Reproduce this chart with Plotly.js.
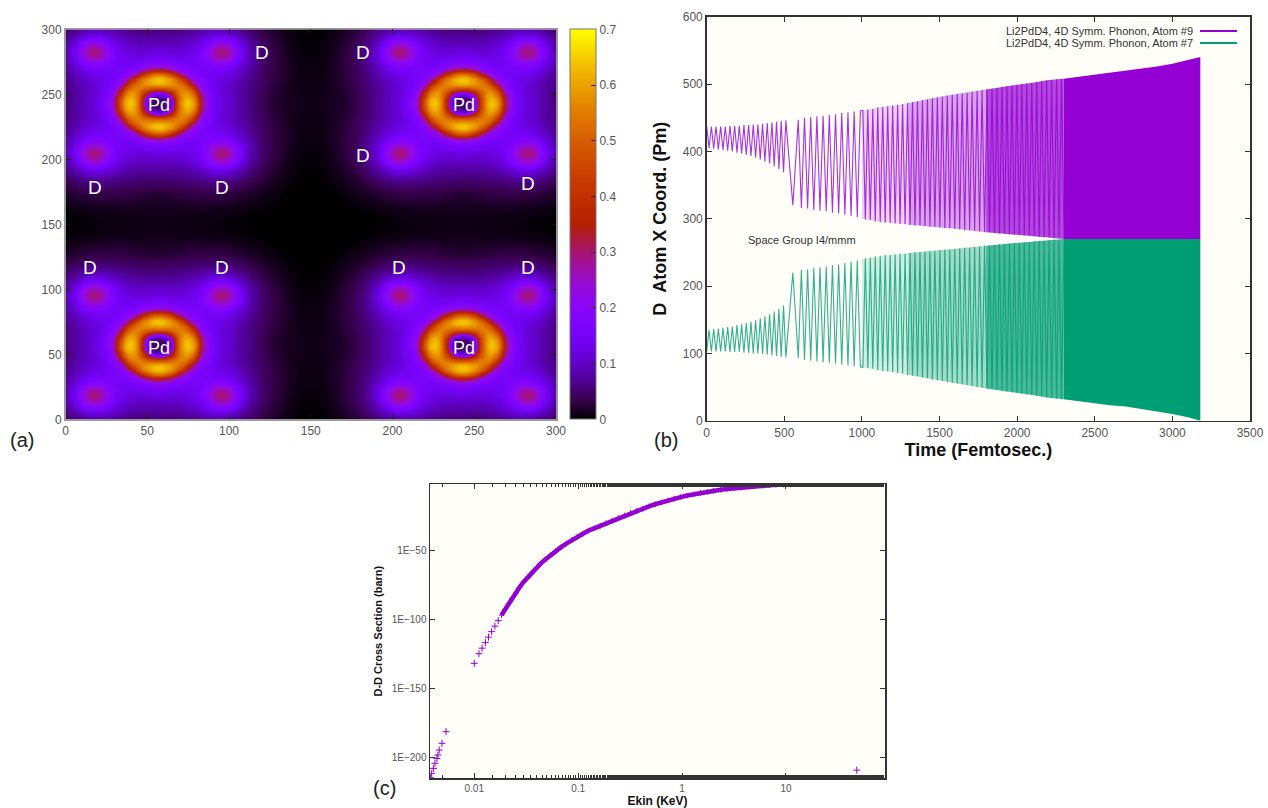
<!DOCTYPE html>
<html>
<head>
<meta charset="utf-8">
<script src="https://cdn.plot.ly/plotly-3.0.1.min.js"></script>
<style>html,body{margin:0;padding:0;background:#fff;}#chart{width:1268px;height:808px;}</style>
</head>
<body>
<div id="chart"></div>
<script>
// ---------------- Panel (a): charge density map ----------------
const mapTicks = [0, 50, 100, 150, 200, 250, 300];
const pdAtomX = [57, 243, 57, 243];
const pdAtomY = [57, 57, 243, 243];
const dAtomCols = [17, 96, 204, 283];
const dAtomRows = [18, 96, 204, 283];
// radial density profiles (radius in map units -> density)
const pdRadius = [0, 4, 7, 9, 11, 13, 15, 17, 19, 21, 23, 25, 27, 30, 34, 40, 48, 58, 70, 90, 110];
const pdLevel  = [0.03, 0.05, 0.12, 0.26, 0.40, 0.50, 0.56, 0.59, 0.58, 0.54, 0.46, 0.35, 0.25, 0.17, 0.125, 0.09, 0.065, 0.04, 0.02, 0.005, 0];
const pdLobe   = 0.08;   // ring brighter toward the four axis directions
const dRadius  = [0, 3, 6, 9, 12, 15, 19, 24, 30, 40, 50];
const dLevel   = [0.26, 0.24, 0.20, 0.15, 0.11, 0.08, 0.055, 0.035, 0.02, 0.008, 0];
const dLabelX  = [120, 18, 96, 15, 96, 182, 182, 283, 204, 283];
const dLabelY  = [282, 178, 178, 117, 117, 282, 203, 181, 117, 117];
const pdLabelX = [57, 244, 57, 244];
const pdLabelY = [242, 242, 55, 55];
const cbarTicks = [0, 0.1, 0.2, 0.3, 0.4, 0.5, 0.6, 0.7];

// ---------------- Panel (b): D atom x coordinate vs time ----------------
const timeTicks = [0, 500, 1000, 1500, 2000, 2500, 3000, 3500];
const coordTicks = [0, 100, 200, 300, 400, 500, 600];
// times of the oscillation extrema (fs)
const extremaT = [0,15,30,45,60,75,90,105,120,135,150,165,180,195,210,225,240,255,270,285,300,315,330,345,360,375,390,405,420,435,450,465,480,495,510,
  555,590,
  610,630,650,670,690,710,730,750,770,790,810,830,850,870,890,910,930,950,970,990,
  1006,1022,1038,1054,1070,1086,1102,1118,1134,1150,1166,1182,1198,1214,1230,1246,1262,1278,1294,1310,1326,1342,1358,1374,1390,1406,1422,1438,1454,1470,1486,1502,1518,1534,1550,1566,1582,1598,1614,1630,1646,1662,1678,1694,1710,1726,1742,1758,1774,1790,1806,1822,1838,1854,1870,1886,1902,1918,1934,1950,1966,1982,1998,2014,2030,2046,2062,2078,2094,2110,2126,2142,2158,2174,2190,2206,2222,2238,2254,2270,2286,2302];
// Atom #9 (purple) extrema values (pm)
const atom9X = [437,405,437,404,437,403,437,402,437,401,438,400,438,398,438,397,439,395,439,393,440,391,440,388,441,385,442,382,443,378,444,374,445,369,446,
  320,447,
  316,450,315,451,313,452,312,453,311,454,309,455,308,457,306,458,304,459,302,460,
  461,299,462,298,463,296,465,295,466,294,467,294,468,293,469,292,470,292,472,291,473,290,474,290,476,289,477,288,479,288,480,287,481,286,483,286,484,285,485,284,486,283,487,283,489,282,490,281,491,280,492,280,493,279,494,278,496,278,497,277,498,277,499,276,500,275,501,275,502,274,503,273,504,273,505,272,506,271,507,271,508,270];
// Atom #7 (green) extrema values (pm)
const atom7X = [103,135,103,136,103,137,103,138,103,139,102,140,102,142,102,143,101,145,101,147,100,149,100,152,99,155,98,158,97,162,96,166,95,171,94,
  220,93,
  224,90,225,89,227,88,228,87,229,86,231,85,232,83,234,82,236,81,238,80,
  79,241,78,242,77,244,75,245,74,246,73,246,72,247,71,248,70,248,68,249,67,250,66,250,64,251,63,252,61,252,60,253,59,254,57,254,56,255,55,256,54,257,53,257,51,258,50,259,49,260,48,260,47,261,46,262,44,262,43,263,42,263,41,264,40,265,39,265,38,266,37,267,36,267,35,268,34,269,33,269,32,270];
// envelopes of the dense part (fs, pm)
const bandT   = [1000,1100,1200,1300,1400,1500,1600,1700,1800,1900,2000,2100,2200,2300,2400,2500,2600,2700,2800,2900,3000,3100,3180];
const band9Up = [460,465,468,472,477,481,485,488,492,496,499,502,506,508,511,514,517,519,522,526,530,535,540];
const band9Lo = [300,296,293,291,289,287,285,283,280,278,276,274,272,270,270,270,270,270,270,270,270,270,270];
const band7Up = [240,244,247,249,251,253,255,257,260,262,264,266,268,270,270,270,270,270,270,270,270,270,270];
const band7Lo = [80,75,72,68,63,59,55,52,48,44,41,38,34,32,29,26,23,21,18,14,10,5,0];
const seriesNames = ['Li2PdD4, 4D Symm. Phonon, Atom #9', 'Li2PdD4, 4D Symm. Phonon, Atom #7'];

// ---------------- Panel (c): D-D cross section ----------------
const ekinTicks = [0.01, 0.1, 1, 10];
const sigmaTicks = [1e-200, 1e-150, 1e-100, 1e-50];
const sigmaTickText = ['1E\u2212200', '1E\u2212150', '1E\u2212100', '1E\u221250'];
const ekinSparse = [0.0038,0.00389,0.00404,0.00419,0.00437,0.00447,0.0046,0.00489,0.00535,0.0100,0.0111,0.0119,0.0128,0.0137,0.0147,0.0158,0.0170,48];
const sigmaSparseExp = [-214.5,-211.3,-207.7,-204,-200.5,-198,-194.4,-189.5,-181.1,-131.5,-124.5,-120.5,-116.5,-112.5,-108.5,-104.5,-100.5,-209];
const ekinDense = [0.0183,0.0197,0.0212,0.0230,0.0250,0.0272,0.0298,0.0327,0.0360,0.0398,0.0440,0.0490,0.0545,0.0610,0.0685,0.077,0.087,0.098,0.111,0.126,0.143,0.163,0.186,0.212,0.243,0.278,0.319,0.366,0.42,0.48,0.55,0.63,0.73,0.84,0.97,1.12,1.30,1.50,1.75,2.0,2.35,2.7,3.2,3.7,4.3,5.0,5.9,6.9,8.0,9.5,11,13,15.5,18,21,25,29,34,40];
const sigmaDenseExp = [-96.5,-92.5,-88.5,-84.5,-80.5,-76.5,-72.5,-69,-65.5,-62,-58.8,-55.8,-52.8,-50,-47.2,-44.6,-42,-39.8,-37.5,-35.2,-33.5,-31.8,-29.8,-27.9,-26,-24.2,-22.4,-20.8,-19.2,-17.6,-16.1,-14.7,-13.3,-12,-10.9,-9.8,-8.8,-7.9,-7.0,-6.3,-5.6,-5.0,-4.4,-3.9,-3.4,-3.0,-2.6,-2.3,-2.0,-1.8,-1.65,-1.55,-1.5,-1.5,-1.45,-1.45,-1.45,-1.45,-1.45];

// ================= build =================
const W = 1268, H = 808;
const px = v => v / W;
const py = v => 1 - v / H;
const FONT = 'Liberation Sans, Arial, Helvetica, sans-serif';
const PURPLE = '#9400D3', GREEN = '#009E73';

function lookup(r, radii, levels) {
  if (r >= radii[radii.length - 1]) return 0;
  for (let k = 1; k < radii.length; k++) {
    if (r <= radii[k]) {
      const f = (r - radii[k-1]) / (radii[k] - radii[k-1]);
      return levels[k-1] + f * (levels[k] - levels[k-1]);
    }
  }
  return 0;
}
const gx = [], gy = [];
for (let v = 0; v <= 300; v += 2) { gx.push(v); gy.push(v); }
const z = gy.map(yv => gx.map(xv => {
  let s = 0;
  for (let k = 0; k < pdAtomX.length; k++) {
    const dx = xv - pdAtomX[k], dy = yv - pdAtomY[k];
    const th = Math.atan2(dy, dx);
    s += lookup(Math.hypot(dx, dy), pdRadius, pdLevel) * (1 + pdLobe * Math.cos(4 * th));
  }
  for (const cx of dAtomCols) for (const cy of dAtomRows) s += lookup(Math.hypot(xv - cx, yv - cy), dRadius, dLevel);
  return Math.min(s, 0.7);
}));

// gnuplot rgbformulae 7,5,15 palette sampled
const palette = [
  [0.00,'rgb(0,0,0)'],[0.05,'rgb(57,0,79)'],[0.10,'rgb(81,0,150)'],[0.15,'rgb(99,1,206)'],
  [0.20,'rgb(114,2,243)'],[0.25,'rgb(128,4,255)'],[0.30,'rgb(140,7,243)'],[0.35,'rgb(151,11,206)'],
  [0.40,'rgb(161,16,150)'],[0.45,'rgb(171,23,79)'],[0.50,'rgb(180,32,0)'],[0.60,'rgb(198,55,0)'],
  [0.70,'rgb(213,87,0)'],[0.80,'rgb(228,131,0)'],[0.90,'rgb(242,186,0)'],[1.00,'rgb(255,255,0)']
];

const traces = [];
traces.push({
  type: 'heatmap', x: gx, y: gy, z: z, zmin: 0, zmax: 0.7, zsmooth: 'best',
  colorscale: palette, xaxis: 'x', yaxis: 'y', hoverinfo: 'skip',
  colorbar: {
    x: px(570), xanchor: 'left', y: py(224.3), yanchor: 'middle',
    len: 390 / H, lenmode: 'fraction', thickness: 26, thicknessmode: 'pixels',
    outlinewidth: 1, outlinecolor: '#777', xpad: 0, ypad: 0,
    ticks: 'inside', ticklen: 5, tickcolor: '#222', tickvals: cbarTicks,
    tickfont: {family: FONT, size: 12, color: '#555'}
  }
});

function band(t, up, lo, i0, i1, color, name) {
  const xs = t.slice(i0, i1 + 1), u = up.slice(i0, i1 + 1), l = lo.slice(i0, i1 + 1);
  return {type: 'scatter', mode: 'lines', x: xs.concat(xs.slice().reverse()), y: u.concat(l.slice().reverse()),
    fill: 'toself', fillcolor: color, line: {width: 0}, xaxis: 'x2', yaxis: 'y2', hoverinfo: 'skip', name: name, showlegend: false};
}
const iT = v => bandT.indexOf(v);
// Atom #9
traces.push(band(bandT, band9Up, band9Lo, iT(1000), iT(1300), 'rgba(148,0,211,0.18)', seriesNames[0]));
traces.push(band(bandT, band9Up, band9Lo, iT(1300), iT(1800), 'rgba(148,0,211,0.36)', seriesNames[0]));
traces.push(band(bandT, band9Up, band9Lo, iT(1800), iT(2300), 'rgba(148,0,211,0.72)', seriesNames[0]));
traces.push(band(bandT, band9Up, band9Lo, iT(2300), iT(3180), 'rgba(148,0,211,1)', seriesNames[0]));
traces.push({type: 'scatter', mode: 'lines', x: extremaT, y: atom9X, name: seriesNames[0],
  line: {color: 'rgba(148,0,211,0.8)', width: 1.1}, xaxis: 'x2', yaxis: 'y2', hoverinfo: 'skip'});
// Atom #7
traces.push(band(bandT, band7Up, band7Lo, iT(1000), iT(1300), 'rgba(0,158,115,0.18)', seriesNames[1]));
traces.push(band(bandT, band7Up, band7Lo, iT(1300), iT(1800), 'rgba(0,158,115,0.36)', seriesNames[1]));
traces.push(band(bandT, band7Up, band7Lo, iT(1800), iT(2300), 'rgba(0,158,115,0.72)', seriesNames[1]));
traces.push(band(bandT, band7Up, band7Lo, iT(2300), iT(3180), 'rgba(0,158,115,1)', seriesNames[1]));
traces.push({type: 'scatter', mode: 'lines', x: extremaT, y: atom7X, name: seriesNames[1],
  line: {color: 'rgba(0,158,115,0.8)', width: 1.1}, xaxis: 'x2', yaxis: 'y2', hoverinfo: 'skip'});

// Panel c
const toSigma = e => Math.pow(10, e);
traces.push({type: 'scatter', mode: 'lines+markers', x: ekinDense, y: sigmaDenseExp.map(toSigma),
  line: {color: PURPLE, width: 4.5}, marker: {symbol: 'cross-thin', size: 4, line: {color: PURPLE, width: 1}},
  xaxis: 'x3', yaxis: 'y3', hoverinfo: 'skip', name: 'D-D cross section'});
traces.push({type: 'scatter', mode: 'markers', x: ekinSparse, y: sigmaSparseExp.map(toSigma),
  marker: {symbol: 'cross-thin', size: 5, color: PURPLE, line: {color: PURPLE, width: 1}},
  xaxis: 'x3', yaxis: 'y3', hoverinfo: 'skip', name: 'D-D cross section'});

const tickFont = {family: FONT, size: 12, color: '#555'};
const axisBase = {showgrid: false, zeroline: false, showline: true, linecolor: '#333', linewidth: 1.5,
  mirror: 'ticks', ticks: 'inside', ticklen: 5, tickcolor: '#333', tickfont: tickFont, fixedrange: true};

const annotations = [];
dLabelX.forEach((x, i) => annotations.push({xref: 'x', yref: 'y', x: x, y: dLabelY[i], text: 'D', showarrow: false,
  font: {family: FONT, size: 19, color: '#ffffff'}}));
pdLabelX.forEach((x, i) => annotations.push({xref: 'x', yref: 'y', x: x, y: pdLabelY[i], text: 'Pd', showarrow: false,
  font: {family: FONT, size: 18, color: '#ffffff'}}));
annotations.push({xref: 'paper', yref: 'paper', x: px(8), y: py(440), xanchor: 'left', yanchor: 'middle', text: '(a)', showarrow: false, font: {family: FONT, size: 20, color: '#222'}});
annotations.push({xref: 'paper', yref: 'paper', x: px(652), y: py(440), xanchor: 'left', yanchor: 'middle', text: '(b)', showarrow: false, font: {family: FONT, size: 20, color: '#222'}});
annotations.push({xref: 'paper', yref: 'paper', x: px(371), y: py(788), xanchor: 'left', yanchor: 'middle', text: '(c)', showarrow: false, font: {family: FONT, size: 20, color: '#222'}});
annotations.push({xref: 'paper', yref: 'paper', x: px(1195), y: py(31), xanchor: 'right', yanchor: 'middle', text: seriesNames[0], showarrow: false, font: {family: FONT, size: 11, color: '#333'}});
annotations.push({xref: 'paper', yref: 'paper', x: px(1195), y: py(43), xanchor: 'right', yanchor: 'middle', text: seriesNames[1], showarrow: false, font: {family: FONT, size: 11, color: '#333'}});
annotations.push({xref: 'x2', yref: 'y2', x: 250, y: 268, xanchor: 'left', yanchor: 'middle', text: 'Space Group I4/mmm', showarrow: false, font: {family: FONT, size: 11, color: '#333'}});

const shapes = [
  {type: 'line', xref: 'paper', yref: 'paper', x0: px(1200), x1: px(1237), y0: py(31), y1: py(31), line: {color: PURPLE, width: 2}},
  {type: 'line', xref: 'paper', yref: 'paper', x0: px(1200), x1: px(1237), y0: py(43), y1: py(43), line: {color: GREEN, width: 2}}
];

const layout = {
  width: W, height: H, margin: {l: 0, r: 0, t: 0, b: 0, pad: 0},
  paper_bgcolor: '#ffffff', plot_bgcolor: '#fffef9', showlegend: false,
  font: {family: FONT, color: '#333'},
  xaxis: Object.assign({}, axisBase, {domain: [px(65.5), px(556)], range: [0, 300], tickvals: mapTicks, anchor: 'y', linecolor: '#999', linewidth: 1.5, tickcolor: '#111'}),
  yaxis: Object.assign({}, axisBase, {domain: [py(419.3), py(29.3)], range: [0, 300], tickvals: mapTicks, anchor: 'x', linecolor: '#999', linewidth: 1.5, tickcolor: '#111'}),
  xaxis2: Object.assign({}, axisBase, {domain: [px(706.7), px(1250)], range: [0, 3500], tickvals: timeTicks, anchor: 'y2',
    title: {text: '<b>Time (Femtosec.)</b>', font: {family: FONT, size: 18, color: '#111'}, standoff: 5}}),
  yaxis2: Object.assign({}, axisBase, {domain: [py(420.7), py(16.7)], range: [0, 600], tickvals: coordTicks, anchor: 'x2',
    title: {text: '<b>D\u00a0\u00a0Atom X Coord. (Pm)</b>', font: {family: FONT, size: 18, color: '#111'}, standoff: 11}}),
  xaxis3: Object.assign({}, axisBase, {domain: [px(430), px(885)], type: 'log', range: [-2.426, 1.953], tickvals: ekinTicks, ticktext: ['0.01', '0.1', '1', '10'], anchor: 'y3',
    tickfont: {family: FONT, size: 10, color: '#555'}, minor: {ticks: 'inside', ticklen: 3, tickcolor: '#333'},
    title: {text: '<b>Ekin (KeV)</b>', font: {family: FONT, size: 12, color: '#111'}, standoff: 1}}),
  yaxis3: Object.assign({}, axisBase, {domain: [py(778.3), py(484)], type: 'log', range: [-214.9, -1.4], tickvals: sigmaTicks, ticktext: sigmaTickText, anchor: 'x3',
    tickfont: {family: FONT, size: 10, color: '#555'},
    title: {text: '<b>D-D Cross Section (barn)</b>', font: {family: FONT, size: 11, color: '#111'}, standoff: 7}}),
  annotations: annotations,
  shapes: shapes
};

Plotly.newPlot('chart', traces, layout, {staticPlot: true, displayModeBar: false});
</script>
</body>
</html>
